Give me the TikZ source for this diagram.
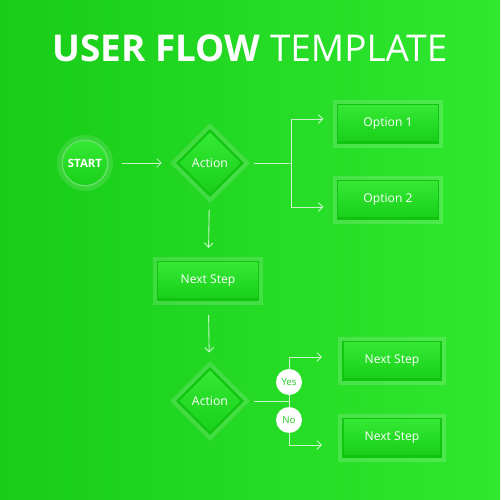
\documentclass[tikz,border=0pt]{standalone}
\usepackage{fontspec}
\setmainfont{Open Sans}
\usetikzlibrary{shapes.geometric,arrows.meta}
\definecolor{bgl}{RGB}{24,204,24}
\definecolor{bgr}{RGB}{48,232,48}
\definecolor{boxdark}{RGB}{16,196,16}
\definecolor{boxtop}{RGB}{52,232,52}
\definecolor{boxbot}{RGB}{26,208,26}
\definecolor{yesno}{RGB}{30,200,30}
\begin{document}
\begin{tikzpicture}[x=0.02cm,y=-0.02cm,
  line/.style={draw=white,draw opacity=.75,line width=0.5pt},
  arr/.style={line,-{Straight Barb[length=2.5pt,width=5pt]}},
  stepbox/.style={rectangle,minimum width=2.22cm,minimum height=0.96cm,
    fill=white,fill opacity=.15,text opacity=1,text=white,
    font=\fontsize{6.9}{8}\selectfont,
    path picture={
      \fill[boxdark,fill opacity=1] ([shift={(2.5pt,2.5pt)}]path picture bounding box.south west)
        rectangle ([shift={(-2.5pt,-2.5pt)}]path picture bounding box.north east);
      \shade[top color=boxtop,bottom color=boxbot,fill opacity=1]
        ([shift={(3.3pt,4.2pt)}]path picture bounding box.south west)
        rectangle ([shift={(-3.3pt,-3.3pt)}]path picture bounding box.north east);
    }},
  actbox/.style={diamond,aspect=1,minimum size=1.6cm,inner sep=0pt,
    fill=white,fill opacity=.15,text opacity=1,text=white,
    font=\fontsize{7}{8}\selectfont,
    path picture={
      \fill[boxdark,fill opacity=1] ([yshift=-3.4pt]path picture bounding box.north)
        -- ([xshift=-3.4pt]path picture bounding box.east)
        -- ([yshift=3.4pt]path picture bounding box.south)
        -- ([xshift=3.4pt]path picture bounding box.west) -- cycle;
      \shade[top color=boxtop,bottom color=boxbot,fill opacity=1]
        ([yshift=-5.2pt]path picture bounding box.north)
        -- ([xshift=-5.2pt]path picture bounding box.east)
        -- ([yshift=5.2pt]path picture bounding box.south)
        -- ([xshift=5.2pt]path picture bounding box.west) -- cycle;
    }},
  startbox/.style={circle,minimum size=1.12cm,inner sep=0pt,
    fill=white,fill opacity=.12,text opacity=1,text=white,
    font=\fontsize{6.5}{8}\selectfont\bfseries,
    path picture={
      \fill[white,fill opacity=.25] (path picture bounding box.center) circle (0.47cm);
      \shade[top color=boxtop,bottom color=boxbot,fill opacity=1]
        (path picture bounding box.center) circle (0.44cm);
    }},
  answer/.style={circle,minimum size=0.52cm,inner sep=0pt,fill=white,text=yesno,
    font=\fontsize{5.5}{6}\selectfont}]
% background
\shade[left color=bgl,right color=bgr] (0,0) rectangle (500,500);
% title
\node[text=white,font=\fontsize{21}{25}\selectfont] (title) at (250,48) {\textbf{USER FLOW} TEMPLATE};
% shapes
\node[startbox] (start) at (85,163) {START};
\node[actbox] (act1) at (210,163) {Action};
\node[stepbox] (opt1) at (388,124) {Option 1};
\node[stepbox] (opt2) at (388,200) {Option 2};
\node[stepbox] (next) at (208,281) {Next Step};
\node[actbox] (act2) at (210,401) {Action};
\node[stepbox,minimum width=2.16cm] (ns1) at (392,361) {Next Step};
\node[stepbox,minimum width=2.16cm] (ns2) at (392,438) {Next Step};
\coordinate (fork1) at (291,163);
\coordinate (fork2) at (289,401);
% connectors
\draw[arr,shorten <=5pt,shorten >=4.5pt] (start) -- (act1);
\draw[line,shorten <=2pt] (act1) -- (fork1);
\draw[arr,shorten >=5pt] (fork1) |- ([yshift=2.8pt]opt1.west);
\draw[arr,shorten >=5pt] (fork1) |- ([yshift=-4pt]opt2.west);
\draw[arr,shorten <=4pt,shorten >=5pt] (act1) -- (next);
\draw[arr,shorten <=5.6pt,shorten >=5pt] (next) -- (act2);
\draw[line,shorten <=2pt] (act2) -- (fork2);
\draw[arr,shorten >=9pt] (fork2) |- ([yshift=2.3pt]ns1.west);
\draw[arr,shorten >=9pt] (fork2) |- ([yshift=-4pt]ns2.west);
\node[answer] (yes) at (289,382) {Yes};
\node[answer] (no) at (289,420) {No};
\end{tikzpicture}
\end{document}
